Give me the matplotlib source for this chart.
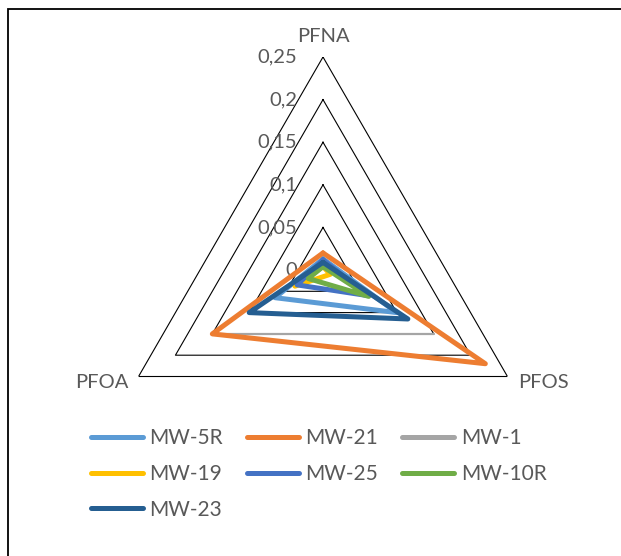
import matplotlib
matplotlib.use("Agg")
import matplotlib.pyplot as plt
import numpy as np
from matplotlib.transforms import offset_copy
from matplotlib.lines import Line2D
from matplotlib.patches import Rectangle

plt.rcParams['font.family'] = ['Lato', 'DejaVu Sans']

# categories, clockwise from the top
categories = ["PFNA", "PFOS", "PFOA"]
ring_levels = [0, 0.05, 0.1, 0.15, 0.2, 0.25]
ring_labels = ["0", "0,05", "0,1", "0,15", "0,2", "0,25"]

# series values (PFNA, PFOS, PFOA); nan = blank cell
mw_5r = [0.013, 0.100, 0.065]
mw_21 = [0.020, 0.220, 0.150]
mw_1 = [np.nan, 0.150, 0.150]
mw_19 = [0.004, 0.010, 0.038]
mw_25 = [0.012, 0.060, 0.035]
mw_10r = [0.004, 0.062, 0.020]
mw_23 = [0.009, 0.115, 0.100]

series = [
    ("MW-5R", mw_5r, "#5B9BD5"),
    ("MW-21", mw_21, "#ED7D31"),
    ("MW-1", mw_1, "#A5A5A5"),
    ("MW-19", mw_19, "#FFC000"),
    ("MW-25", mw_25, "#4472C4"),
    ("MW-10R", mw_10r, "#70AD47"),
    ("MW-23", mw_23, "#255E91"),
]

txt_col = "#595959"

fig = plt.figure(figsize=(6.21, 5.56), dpi=100)
# outer frame
fig.patches.append(Rectangle((8 / 621, -0.1), 1.0, (556 - 9) / 556 + 0.1,
                             transform=fig.transFigure, fill=False,
                             edgecolor="black", lw=1.3))

ax = fig.add_axes([110 / 621, 73 / 556, 426 / 621, 426 / 556], projection="polar")
ax.set_theta_zero_location("N")
ax.set_theta_direction(-1)
ax.set_ylim(0, 0.25)
ax.grid(False)
ax.spines["polar"].set_visible(False)
ax.set_xticks([])
ax.set_yticks([])
ax.patch.set_alpha(0)

angles = np.linspace(0, 2 * np.pi, len(categories), endpoint=False)
closed = np.append(angles, angles[0])

# triangle gridlines
for lv in ring_levels[1:]:
    ax.plot(closed, [lv] * len(closed), color="black", lw=0.8, zorder=1)

# radial labels
lab_tr = offset_copy(ax.transData, fig=fig, x=-26, y=0, units="dots")
for lv, lab in zip(ring_levels, ring_labels):
    ax.text(0, lv, lab, transform=lab_tr, ha="right", va="center",
            fontsize=14.5, color=txt_col)

# category labels
offs = [(0, 21, "center"), (11, -6, "left"), (-10, -6, "right")]
for ang, cat, (dx, dy, ha) in zip(angles, categories, offs):
    tr = offset_copy(ax.transData, fig=fig, x=dx, y=dy, units="dots")
    ax.text(ang, 0.25, cat, transform=tr, ha=ha, va="center",
            fontsize=14.5, color=txt_col)

handles = {}
for i, (name, vals, col) in enumerate(series):
    r = np.append(vals, vals[0])
    z = 2 if name == "MW-1" else 3 + i
    w = 1.6 if name == "MW-1" else 3.6
    ax.plot(closed, r, color=col, lw=w, solid_joinstyle="round",
            solid_capstyle="round", zorder=z, clip_on=False)
    handles[name] = Line2D([], [], color=col, lw=3.6, solid_capstyle="round")

# legend filled column-wise so it reads row by row
order = ["MW-5R", "MW-19", "MW-23", "MW-21", "MW-25", "MW-1", "MW-10R"]
leg = fig.legend([handles[n] for n in order], order, ncol=3, loc="upper left",
                 bbox_to_anchor=(91 / 621, (556 - 428) / 556), frameon=False,
                 fontsize=15, handlelength=2.5, handletextpad=0.3,
                 columnspacing=1.16, labelspacing=0.76, borderpad=0,
                 borderaxespad=0)
for t in leg.get_texts():
    t.set_color(txt_col)

fig.savefig("out.png", dpi=100)
